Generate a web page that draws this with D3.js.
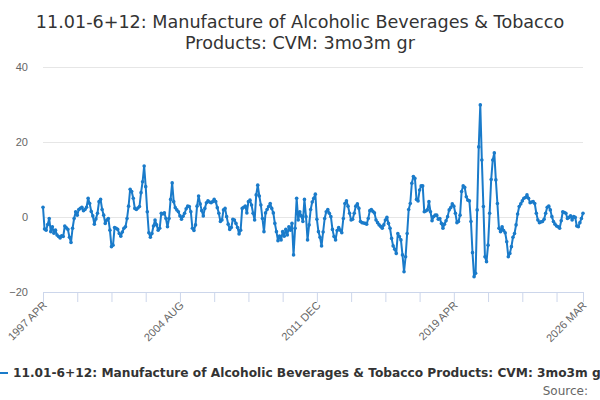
<!DOCTYPE html>
<html>
<head>
<meta charset="utf-8">
<script src="https://cdn.jsdelivr.net/npm/d3@7"></script>
<style>
  body { margin: 0; background: #fff; }
  svg { display: block; font-family: "DejaVu Sans", sans-serif; }
  .title { font-size: 17.6px; fill: #333; }
  .y-axis text, .x-axis text { font-size: 11px; fill: #666; }
  .y-axis line { stroke: #e6e6e6; }
  .x-axis line, .x-axis path { stroke: #ccd6eb; }
  .legend { font-size: 12.2px; font-weight: bold; fill: #333; }
  .source { font-size: 12px; fill: #666; }
</style>
</head>
<body>
<svg width="600" height="400"></svg>
<script>
const titleLines = ['11.01-6+12: Manufacture of Alcoholic Beverages & Tobacco', 'Products: CVM: 3mo3m gr'];
const seriesName = '11.01-6+12: Manufacture of Alcoholic Beverages & Tobacco Products: CVM: 3mo3m gr';
const startMonth = new Date(1997, 3, 1);
const endMonth = new Date(2026, 2, 1);
const yTicks = [-20, 0, 20, 40];
const tickEvery = 22;
const labelEvery = 4;

// 3mo3m growth, monthly from 1997 APR to 2026 MAR
const values = [
  2.6, -3.2, -3.5, -2.0, -0.4, -3.9, -2.6, -4.3, -3.5, -4.8, -5.2, -5.6,
  -5.0, -5.2, -2.4, -2.9, -3.3, -5.4, -6.8, -3.0, -0.4, 1.4, 0.5, 2.0,
  2.3, 2.6, 1.7, 2.0, 2.6, 5.0, 3.6, 1.5, 0.3, -1.9, -0.5, 1.0,
  4.1, 4.7, 2.0, 0.5, -1.7, -0.8, -0.4, -3.5, -7.9, -7.5, -2.8, -3.0,
  -3.3, -4.4, -5.1, -4.0, -3.0, -2.6, -0.4, 2.9, 7.4, 6.8, 5.0, 2.3,
  2.0, 2.4, 2.8, 6.5, 9.4, 13.6, 8.1, 1.4, -4.2, -5.4, -4.4, -2.4,
  -0.8, -2.1, -3.5, -3.0, 1.0, 0.8, 1.1, -0.4, -2.6, -0.4, 4.7, 9.1,
  4.1, 2.5, 1.9, 1.4, 0.3, -0.6, 0.2, 1.0, 2.2, 2.9, 2.8, 1.4,
  -3.0, -3.6, -2.1, 2.9, 5.6, 3.5, 1.7, 0.3, 2.3, 3.8, 4.3, 4.0,
  3.8, 4.1, 4.7, 4.1, 2.5, 1.0, -1.2, -0.8, 1.9, 2.3, 0.1, -1.9,
  -3.3, -2.8, -0.6, -0.8, -1.7, -2.8, -4.5, -3.5, 2.3, 2.6, 2.9, 1.1,
  4.1, 4.5, 3.2, 1.0, -0.8, 5.9, 8.5, 5.6, 3.2, -0.4, -3.9, 1.1,
  2.0, 2.8, 3.6, 2.3, 1.1, -1.7, -3.9, -6.3, -5.1, -6.1, -3.9, -5.1,
  -3.3, -4.8, -2.6, -3.5, -1.7, -10.1, -3.0, 5.0, -0.8, 1.4, 0.3, -1.2,
  4.7, 0.1, -6.1, -2.1, 2.0, 4.0, 5.0, 6.1, -0.6, -3.9, -5.4, -7.7,
  -4.0, -0.4, 1.4, 2.0, 1.0, 0.1, -3.3, -5.2, -6.1, -3.6, -2.8, -3.5,
  -4.2, -0.4, 3.6, 4.3, 2.9, 1.0, -0.8, -0.6, 1.0, 2.9, 3.5, 2.3,
  -1.2, -1.5, -1.6, -1.7, -1.9, -0.4, 1.7, 2.0, 1.5, 1.1, -0.8, -1.5,
  -2.1, -2.5, -3.0, -2.1, -0.8, -0.1, -1.7, -3.0, -5.7, -7.7, -8.6, -9.7,
  -4.4, -5.2, -6.1, -10.1, -14.6, -10.6, -4.4, 2.0, 3.6, 9.0, 10.8, 10.3,
  4.7, 4.3, 7.2, 8.3, 8.3, 1.4, 1.6, 1.9, 4.1, 1.4, -1.0, 0.1,
  0.5, 0.5, -0.6, -0.4, -1.7, -3.0, -1.9, -1.0, 0.1, 1.9, 2.5, 3.5,
  2.9, 1.0, -1.5, -1.2, 0.5, 6.8, 8.3, 7.9, 5.4, 4.5, 4.3, -1.2,
  -9.5, -15.9, -15.0, 1.9, 18.7, 29.9, 15.2, 2.8, -10.6, -11.9, -7.5, 1.0,
  10.0, 15.2, 17.1, 9.9, 3.6, -3.0, -3.9, -2.6, -3.6, -4.2, -6.6, -10.6,
  -9.7, -7.9, -5.4, -4.4, -2.1, 0.8, 2.8, 3.5, 4.3, 5.0, 5.2, 5.9,
  5.0, 3.8, 4.0, 4.1, 3.6, 1.0, -0.8, -1.5, -1.3, -1.2, -0.6, 1.0,
  2.6, 2.9, 1.9, 0.1, -1.2, -1.9, -2.4, -2.6, -3.0, -1.0, 1.4, 1.2,
  1.0, -0.4, -0.1, 0.3, -0.8, 0.1, -0.1, -2.4, -2.6, -1.5, -0.4, 1.0
];

const months = d3.timeMonth.range(startMonth, d3.timeMonth.offset(endMonth, 1));
const data = values.map((v, i) => ({ i, date: months[i], value: v }));

const W = 600;
const MARGIN = { top: 67, right: 17, bottom: 108, left: 43 };
const COLOR = '#1a7bca';
const fmt = d => d3.timeFormat('%Y %b')(d).toUpperCase();

const svg = d3.select('svg');

svg.append('g')
  .selectAll('text')
  .data(titleLines)
  .join('text')
  .attr('class', 'title')
  .attr('x', W / 2)
  .attr('y', (d, i) => 28 + i * 21)
  .attr('text-anchor', 'middle')
  .text(d => d);

const x = d3.scaleLinear()
  .domain([0, data.length - 1])
  .range([MARGIN.left, W - MARGIN.right]);

const y = d3.scaleLinear()
  .domain([-20, 40])
  .range([400 - MARGIN.bottom, MARGIN.top]);

// y grid + labels
const yAxis = svg.append('g')
  .attr('class', 'y-axis')
  .attr('transform', `translate(${MARGIN.left},0)`)
  .call(d3.axisLeft(y).tickValues(yTicks).tickSize(-(W - MARGIN.left - MARGIN.right)).tickPadding(15));
yAxis.select('.domain').remove();
yAxis.selectAll('text').attr('dy', '0.32em');

// x axis: tick every 22 months, label every 4th tick plus the last month
const tickIdx = d3.range(0, data.length, tickEvery).concat([data.length - 1]);
const labelIdx = new Set(tickIdx.filter((d, k) => k % labelEvery === 0).concat([data.length - 1]));

const xAxis = svg.append('g')
  .attr('class', 'x-axis')
  .attr('transform', `translate(0,${y(-20)})`)
  .call(d3.axisBottom(x)
    .tickValues(tickIdx)
    .tickSize(10)
    .tickSizeOuter(0)
    .tickFormat(i => labelIdx.has(i) ? fmt(months[i]) : ''));

xAxis.selectAll('text')
  .attr('text-anchor', 'end')
  .attr('dy', null)
  .attr('y', 0)
  .attr('transform', 'translate(4,14) rotate(-45)');

// line
const line = d3.line()
  .x(d => x(d.i))
  .y(d => y(d.value));

svg.append('path')
  .datum(data)
  .attr('fill', 'none')
  .attr('stroke', COLOR)
  .attr('stroke-width', 2)
  .attr('stroke-linejoin', 'round')
  .attr('d', line);

svg.append('g')
  .selectAll('circle')
  .data(data)
  .join('circle')
  .attr('cx', d => x(d.i))
  .attr('cy', d => y(d.value))
  .attr('r', 1.8)
  .attr('fill', COLOR);

// legend
const $legend = svg.append('g').attr('transform', 'translate(0,373)');
$legend.append('line')
  .attr('x1', -8).attr('x2', 8)
  .attr('stroke', COLOR)
  .attr('stroke-width', 2);
$legend.append('text')
  .attr('class', 'legend')
  .attr('x', 13)
  .attr('dy', '0.35em')
  .text(seriesName);

svg.append('text')
  .attr('class', 'source')
  .attr('x', 588)
  .attr('y', 395)
  .attr('text-anchor', 'end')
  .text('Source:');
</script>
</body>
</html>
